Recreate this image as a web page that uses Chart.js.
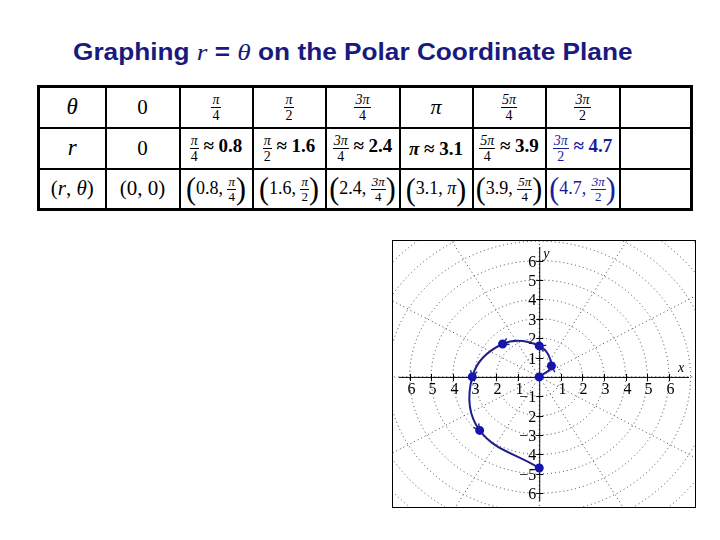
<!DOCTYPE html>
<html>
<head>
<meta charset="utf-8">
<script src="https://cdn.jsdelivr.net/npm/chart.js@4.4.0/dist/chart.umd.min.js"></script>
<style>
  body { margin: 0; width: 720px; height: 540px; background: #fff; position: relative; overflow: hidden; }
  #title { position: absolute; left: 73px; top: 41px; font: bold 23px "Liberation Sans", Arial, sans-serif; color: #1a1a7e; line-height: 23px; white-space: nowrap; transform: scaleX(1.14); transform-origin: 0 0; }
  #title i { font-family: "Liberation Serif", "Times New Roman", serif; font-weight: normal; font-size: 24px; }
  #tbl { position: absolute; left: 37px; top: 85px; border-collapse: collapse; table-layout: fixed; font-family: "Liberation Serif", "Times New Roman", serif; color: #000; }
  #tbl td { border: 2px solid #000; text-align: center; vertical-align: middle; padding: 0; white-space: nowrap; font-size: 21px; }
  #tbl tr { height: 41px; }
  #tbl tr:first-child td { border-top: 3px solid #000; }
  #tbl tr:last-child td { border-bottom: 3px solid #000; }
  #tbl td:first-child { border-left: 3px solid #000; }
  #tbl td:last-child { border-right: 3px solid #000; }
  .frac { display: inline-block; vertical-align: middle; text-align: center; font-size: 14px; line-height: 13px; font-weight: normal; }
  .frac .n { display: block; border-bottom: 1px solid currentColor; padding: 0 1px 1px; }
  .frac .d { display: block; padding-top: 1px; }
  .approx { font-size: 19px; font-weight: bold; }
  .pair { font-size: 18px; }
  .pair .frac { font-size: 13px; line-height: 12px; }
  .paren { font-size: 30px; display: inline-block; vertical-align: middle; line-height: 24px; transform: scaleY(1.05); }
  .blue { color: #1a1aa0; }
  #plot { position: absolute; left: 392px; top: 240px; width: 302px; height: 266px; border: 1px solid #000; }
</style>
</head>
<body>
<div id="title">Graphing <i>r</i> = <i>θ</i> on the Polar Coordinate Plane</div>
<table id="tbl">
  <colgroup>
    <col style="width:67px"><col style="width:74px"><col style="width:73px"><col style="width:73px"><col style="width:74px"><col style="width:73px"><col style="width:73px"><col style="width:74px"><col style="width:72px">
  </colgroup>
  <tbody>
    <tr id="rowTheta"></tr>
    <tr id="rowR"></tr>
    <tr id="rowPair"></tr>
  </tbody>
</table>
<div id="plot"><canvas id="my_chart" width="302" height="266"></canvas></div>
<script>
// table / data values
var thetaDeg = [0, 45, 90, 135, 180, 225, 270];
var thetaNum = ["0", "π", "π", "3π", "π", "5π", "3π"];
var thetaDen = ["", "4", "2", "4", "", "4", "2"];
var rValues = [0, 0.8, 1.6, 2.4, 3.1, 3.9, 4.7];

// axis tick labels as printed on the graph
var xTickValues = [-6, -5, -4, -3, -2, -1, 1, 2, 3, 4, 5, 6];
var xTickLabels = ["6", "5", "4", "3", "2", "1", "1", "2", "3", "4", "5", "6"];
var yTickValues = [-6, -5, -4, -3, -2, -1, 1, 2, 3, 4, 5, 6];
var yTickLabels = ["6", "−5", "4", "−3", "2", "−1", "1", "2", "3", "4", "5", "6"];

var gridRings = [1, 2, 3, 4, 5, 6, 7, 8, 9, 10];
var spokeDeg = [0, 30, 60, 90, 120, 150, 180, 210, 240, 270, 300, 330];

function frac(n, d) {
    if (!d) return n;
    return '<span class="frac"><span class="n">' + n + '</span><span class="d">' + d + '</span></span>';
}

function thetaText(i) {
    if (thetaDen[i] === "") return '<i>' + thetaNum[i] + '</i>';
    return frac('<i>' + thetaNum[i] + '</i>', thetaDen[i]);
}

// build table
var rowTheta = '<td style="font-size:23px"><i>θ</i></td>';
var rowR = '<td style="font-size:23px"><i>r</i></td>';
var rowPair = '<td>(<i>r</i>, <i>θ</i>)</td>';
for (var i = 0; i < thetaDeg.length; i++) {
    var cls = i === thetaDeg.length - 1 ? ' class="blue"' : '';
    if (i === 0) {
        rowTheta += '<td>0</td>';
        rowR += '<td>0</td>';
        rowPair += '<td>(0, 0)</td>';
        continue;
    }
    rowTheta += '<td' + (thetaDen[i] === "" ? ' style="font-size:22px"' : '') + '>' + thetaText(i) + '</td>';
    rowR += '<td' + cls + '><span class="approx">' + thetaText(i) + ' ≈ ' + rValues[i].toFixed(1) + '</span></td>';
    rowPair += '<td' + cls + '><span class="pair"><span class="paren">(</span>' + rValues[i].toFixed(1) + ', ' + thetaText(i) + '<span class="paren">)</span></span></td>';
}
rowTheta += '<td></td>';
rowR += '<td></td>';
rowPair += '<td></td>';
document.getElementById("rowTheta").innerHTML = rowTheta;
document.getElementById("rowR").innerHTML = rowR;
document.getElementById("rowPair").innerHTML = rowPair;

// polar points -> x, y
var spiralPoints = thetaDeg.map(function (t, i) {
    var a = t * Math.PI / 180;
    return { x: rValues[i] * Math.cos(a), y: rValues[i] * Math.sin(a) };
});

var polarGrid = {
    id: 'polarGrid',
    beforeDatasetsDraw: function (chart) {
        var ctx = chart.ctx, x = chart.scales.x, y = chart.scales.y;
        var cx = x.getPixelForValue(0), cy = y.getPixelForValue(0);
        var ux = x.getPixelForValue(1) - cx, uy = cy - y.getPixelForValue(1);
        ctx.save();
        ctx.strokeStyle = '#444';
        ctx.lineWidth = 1;
        ctx.setLineDash([1, 3]);
        gridRings.forEach(function (r) {
            ctx.beginPath();
            ctx.ellipse(cx, cy, r * ux, r * uy, 0, 0, 2 * Math.PI);
            ctx.stroke();
        });
        spokeDeg.forEach(function (d) {
            var a = d * Math.PI / 180;
            ctx.beginPath();
            ctx.moveTo(cx, cy);
            ctx.lineTo(cx + 10 * ux * Math.cos(a), cy - 10 * uy * Math.sin(a));
            ctx.stroke();
        });
        ctx.setLineDash([]);

        // axes
        ctx.strokeStyle = '#000';
        ctx.beginPath();
        ctx.moveTo(chart.chartArea.left, cy + 0.5);
        ctx.lineTo(chart.chartArea.right, cy + 0.5);
        ctx.moveTo(cx + 0.5, chart.chartArea.top);
        ctx.lineTo(cx + 0.5, chart.chartArea.bottom);
        ctx.stroke();

        ctx.fillStyle = '#000';
        ctx.font = '16px "Liberation Serif", "Times New Roman", serif';
        ctx.textAlign = 'center';
        ctx.textBaseline = 'middle';
        xTickValues.forEach(function (v, i) {
            var px = Math.round(x.getPixelForValue(v)) + 0.5;
            ctx.beginPath();
            ctx.moveTo(px, cy - 3);
            ctx.lineTo(px, cy + 4);
            ctx.stroke();
            ctx.fillText(xTickLabels[i], px + 1, cy + 13);
        });
        ctx.textAlign = 'right';
        yTickValues.forEach(function (v, i) {
            var py = Math.round(y.getPixelForValue(v)) + 0.5;
            ctx.beginPath();
            ctx.moveTo(cx - 3, py);
            ctx.lineTo(cx + 4, py);
            ctx.stroke();
            ctx.fillText(yTickLabels[i], cx - 3, py + 1);
        });
        ctx.font = 'italic 14px "Liberation Serif", "Times New Roman", serif';
        ctx.textAlign = 'left';
        ctx.fillText('x', chart.chartArea.right - 11, cy - 9);
        ctx.fillText('y', cx + 4, chart.chartArea.top + 7);
        ctx.restore();
    },
    afterDatasetsDraw: function (chart) {
        // little arrow heads along the curve
        var ctx = chart.ctx;
        var pts = chart.getDatasetMeta(0).data;
        ctx.save();
        ctx.strokeStyle = '#1e1e8c';
        ctx.lineWidth = 1.4;
        for (var i = 1; i < pts.length - 1; i++) {
            var dx = pts[i + 1].x - pts[i - 1].x, dy = pts[i + 1].y - pts[i - 1].y;
            var a = Math.atan2(dy, dx);
            var tx = pts[i].x, ty = pts[i].y;
            ctx.beginPath();
            ctx.moveTo(tx - 7 * Math.cos(a - 0.5), ty - 7 * Math.sin(a - 0.5));
            ctx.lineTo(tx, ty);
            ctx.lineTo(tx - 7 * Math.cos(a + 0.5), ty - 7 * Math.sin(a + 0.5));
            ctx.stroke();
        }
        ctx.restore();
    }
};

var ctx = document.getElementById("my_chart").getContext("2d");

new Chart(ctx, {
    type: 'scatter',
    data: {
        datasets: [{
            data: spiralPoints,
            showLine: true,
            tension: 0.4,
            borderColor: '#1e1e8c',
            borderWidth: 2,
            pointRadius: 3.5,
            pointBackgroundColor: '#1414b4',
            pointBorderColor: '#1414b4',
            fill: false
        }]
    },
    options: {
        responsive: false,
        animation: false,
        devicePixelRatio: 1,
        layout: { padding: 0 },
        plugins: {
            legend: { display: false },
            tooltip: { enabled: false }
        },
        scales: {
            x: { type: 'linear', min: -6.49, max: 6.93, display: false },
            y: { type: 'linear', min: -6.4, max: 6.7, display: false }
        }
    },
    plugins: [polarGrid]
});
</script>
</body>
</html>
